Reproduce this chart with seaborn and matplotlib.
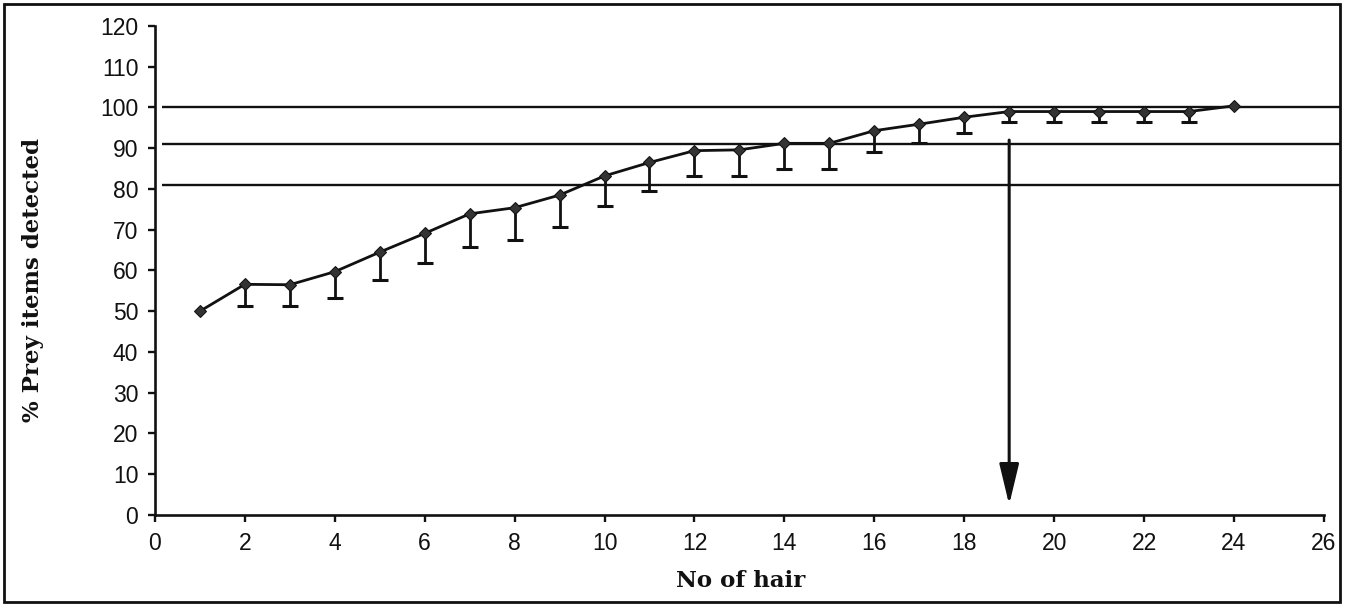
import matplotlib
matplotlib.use("Agg")
import matplotlib.pyplot as plt
import seaborn as sns
import pandas as pd
from matplotlib.patches import Rectangle

# ---- data ----
n_hair = [1, 2, 3, 4, 5, 6, 7, 8, 9, 10, 11, 12, 13, 14, 15, 16, 17, 18, 19, 20, 21, 22, 23, 24]
pct_detected = [50.0, 56.6, 56.5, 59.7, 64.5, 69.1, 73.9, 75.4, 78.5, 83.2, 86.5, 89.4,
                89.6, 91.2, 91.2, 94.3, 95.9, 97.6, 99.0, 99.0, 99.0, 99.0, 99.0, 100.4]
lower_err = [0.0, 5.3, 5.2, 6.4, 6.8, 7.3, 8.1, 7.9, 7.8, 7.4, 6.9, 6.2,
             6.4, 6.4, 6.4, 5.2, 4.5, 3.8, 2.6, 2.6, 2.6, 2.6, 2.6, 0.0]
ref_levels = [100, 91, 81]
arrow_x = 19
arrow_from, arrow_to = 92, 2.5
x_ticks = list(range(0, 27, 2))
y_ticks = list(range(0, 121, 10))

df = pd.DataFrame({"n": n_hair, "pct": pct_detected, "err": lower_err})
df["low"] = df["pct"] - df["err"]
bars = df[df["err"] > 0]

sns.set_style("ticks")
plt.rcParams["font.family"] = ["Liberation Sans", "DejaVu Sans"]

fig = plt.figure(figsize=(13.45, 6.04), dpi=100)
ax = fig.add_axes([0.1152, 0.1474, 0.8808, 0.8096])

ink = "#111111"

# reference horizontal lines
ax.hlines(ref_levels, 0.15, 26.35, color=ink, lw=1.7, zorder=1)

# one-sided (downward) error bars with caps
ax.vlines(bars["n"], bars["low"], bars["pct"], color=ink, lw=2.0, zorder=2)
sns.scatterplot(x=bars["n"], y=bars["low"], marker="_", s=140, linewidth=2.2,
                color=ink, ax=ax, zorder=2, legend=False)

# main curve with diamond markers
sns.lineplot(data=df, x="n", y="pct", color=ink, lw=2.0, marker="D",
             markersize=6, markeredgecolor=ink, markerfacecolor="#333333",
             ax=ax, zorder=3)

# arrow
ax.annotate("", xy=(arrow_x, arrow_to), xytext=(arrow_x, arrow_from),
            arrowprops=dict(arrowstyle="-|>,head_length=1.25,head_width=0.3",
                            mutation_scale=20, lw=2.2, color=ink,
                            facecolor="#2a2a2a", shrinkA=0, shrinkB=0),
            zorder=4)

ax.set_xlim(0, 26.35)
ax.set_ylim(0, 120)
ax.set_xticks(x_ticks)
ax.set_yticks(y_ticks)
ax.spines["bottom"].set_bounds(0, 26)
for s in ["top", "right"]:
    ax.spines[s].set_visible(False)
for s in ["left", "bottom"]:
    ax.spines[s].set_linewidth(1.9)
    ax.spines[s].set_color(ink)
ax.tick_params(axis="both", direction="out", length=5, width=1.7, color=ink,
               labelsize=16.5, labelcolor=ink, pad=7)

ax.set_xlabel("No of hair", family=["DejaVu Serif"], fontweight="bold",
              fontsize=16.5, color=ink)
ax.set_ylabel("% Prey items detected", family=["DejaVu Serif"], fontweight="bold",
              fontsize=16.5, color=ink)
ax.xaxis.set_label_coords(0.494, -0.112)
ax.yaxis.set_label_coords(-0.094, 0.48)

# outer frame
fig.patches.append(Rectangle((0.003, 0.004), 0.993, 0.99, transform=fig.transFigure,
                             fill=False, lw=2.0, edgecolor=ink))

fig.savefig("out.png", dpi=100, facecolor="white")
